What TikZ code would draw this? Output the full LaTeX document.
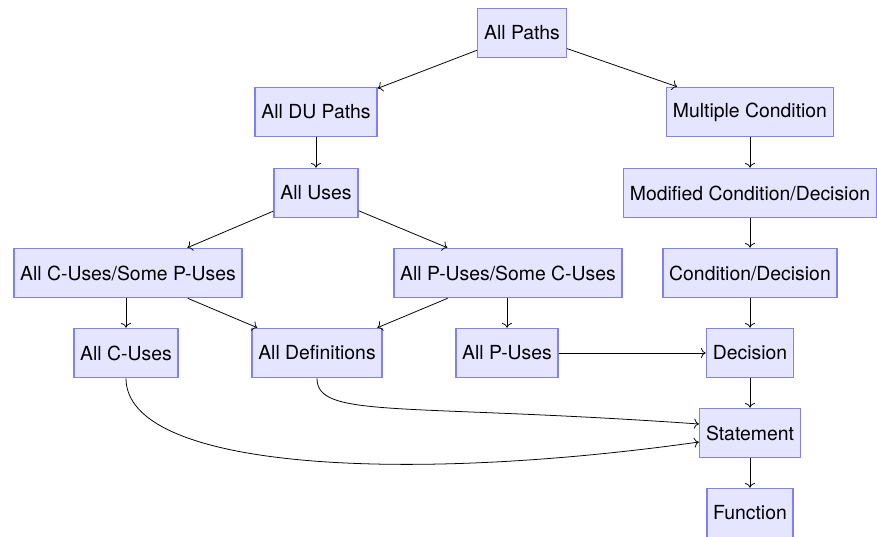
\documentclass[tikz,border=0pt]{standalone}
\usepackage{fontspec}
\setmainfont{TeX Gyre Heros}
\usepackage{tikz}
\usetikzlibrary{arrows.meta}

\begin{document}
\begin{tikzpicture}[x=0.516pt,y=-0.516pt,>=To,
    crit/.style={draw=blue!50,fill=blue!10,thick,minimum height=25.3pt,inner sep=3.3pt}]
    \useasboundingbox (0,0) rectangle (877,537);
    % data flow criteria
    \node[crit] (paths) at (522,33) {All Paths};
    \node[crit] (du) at (316,112) {All DU Paths};
    \node[crit] (uses) at (316,193) {All Uses};
    \node[crit] (cusp) at (128,273) {All C-Uses/Some P-Uses};
    \node[crit] (pusc) at (508,273) {All P-Uses/Some C-Uses};
    \node[crit] (cu) at (126,353) {All C-Uses};
    \node[crit] (defs) at (317,353) {All Definitions};
    \node[crit] (pu) at (507,353) {All P-Uses};
    % control flow criteria
    \node[crit] (mc) at (750,112) {Multiple Condition};
    \node[crit] (mcdc) at (750,193) {Modified Condition/Decision};
    \node[crit] (cd) at (750,273) {Condition/Decision};
    \node[crit] (dec) at (750,353) {Decision};
    \node[crit] (stmt) at (750,433) {Statement};
    \node[crit] (fn) at (750,513) {Function};

    \draw[->] (paths) -- (du);
    \draw[->] (paths) -- (mc);
    \draw[->] (du) -- (uses);
    \draw[->] (uses) -- (cusp);
    \draw[->] (uses) -- (pusc);
    \draw[->] (cusp.south -| cu) -- (cu);
    \draw[->] (cusp) -- (defs);
    \draw[->] (pusc) -- (defs);
    \draw[->] (pusc.south -| pu) -- (pu);
    \draw[->] (pu) -- (dec);
    \draw[->] (mc) -- (mcdc);
    \draw[->] (mcdc) -- (cd);
    \draw[->] (cd) -- (dec);
    \draw[->] (dec) -- (stmt);
    \draw[->] (stmt) -- (fn);
    \draw[->] (defs.south) to[out=-90,in=176,out looseness=0.27,in looseness=2] (stmt.170);
    \draw[->] (cu.south) to[out=-90,in=188,out looseness=0.4,in looseness=1.35] (stmt.190);
\end{tikzpicture}
\end{document}
